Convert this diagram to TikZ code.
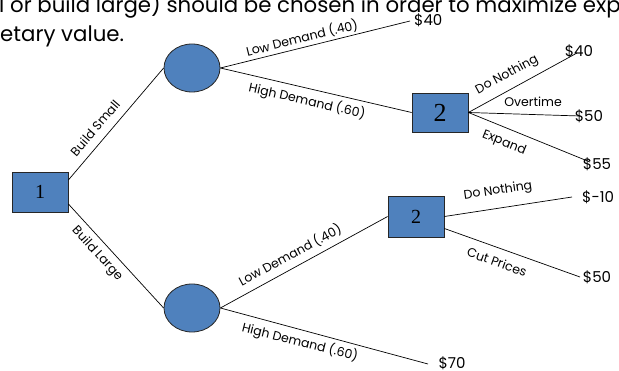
\documentclass[tikz,border=0pt]{standalone}
\usepackage{fontspec}
\setmainfont{Poppins}
\newfontfamily\serifnum{Liberation Serif}
\usetikzlibrary{shapes.geometric,calc}
\definecolor{nodeblue}{HTML}{4F81BD}
\begin{document}
\begin{tikzpicture}[x=1pt,y=-1pt,
  decbox/.style={rectangle,draw=black!85,fill=nodeblue,line width=0.8pt,minimum width=56pt,minimum height=40pt,inner sep=0pt,font=\serifnum\fontsize{20}{22}\selectfont},
  chance/.style={ellipse,draw=black!85,fill=nodeblue,line width=0.8pt,minimum width=56pt,minimum height=48pt,inner sep=0pt},
  branch/.style={draw=black,line width=0.7pt},
  lbl/.style={inner sep=0pt,font=\fontsize{12.5}{13}\selectfont},
  payoff/.style={inner sep=0pt,font=\fontsize{15}{16}\selectfont},
  heading/.style={inner sep=0pt,font=\fontsize{21.3}{24}\selectfont}]
\useasboundingbox (0,0) rectangle (619,371);
\clip (0,0) rectangle (619,371);
% heading text
\node[heading,anchor=base west] (h1) at (-1,13) {l or build large) should be chosen in order to maximize exp};
\node[heading,anchor=base west] (h2) at (0,42) {etary value.};
% nodes
\node[decbox] (b1) at (40,192) {1};
\node[chance] (c1) at (192,68) {};
\node[chance] (c2) at (192,308) {};
\node[decbox,font=\serifnum\fontsize{26}{28}\selectfont,minimum height=39pt] (b2) at (440,112.5) {2};
\node[decbox,minimum height=41pt] (b3) at (416,216.5) {2};
% leaf coordinates
\coordinate (e1) at (410,21);
\coordinate (e2) at (577,53);
\coordinate (e3) at (580,116);
\coordinate (e4) at (590,162);
\coordinate (e5) at (572,197);
\coordinate (e6) at (580,277);
\coordinate (e7) at (428,364);
% payoffs
\node[payoff,anchor=west] (p1) at (414,20) {\$40};
\node[payoff] (p2) at (579,51) {\$40};
\node[payoff] (p3) at (589,116) {\$50};
\node[payoff] (p4) at (597,164) {\$55};
\node[payoff,anchor=west] (p5) at (582,197) {\$-10};
\node[payoff] (p6) at (597,277) {\$50};
\node[payoff] (p7) at (452,363) {\$70};
% branches
\draw[branch] ([yshift=12pt]b1.east) -- (c1.west);
\draw[branch] ([yshift=-12pt]b1.east) -- (c2.west);
\draw[branch] (c1.east) -- (e1);
\draw[branch] (c1.east) -- (b2.west);
\draw[branch] (b2.east) -- (e2);
\draw[branch] (b2.east) -- (e3);
\draw[branch] (b2.east) -- (e4);
\draw[branch] (c2.east) -- (b3.west);
\draw[branch] (c2.east) -- (e7);
\draw[branch] (b3.east) -- (e5);
\draw[branch] ([yshift=-12pt]b3.east) -- (e6);
% labels
\node[lbl,rotate=49.4] (t1) at (95,128) {Build Small};
\node[lbl,rotate=-47.3] (t2) at (97,254) {Build Large};
\node[lbl,rotate=13.9] (t3) at (302,38) {Low Demand (.40)};
\node[lbl,rotate=-12.9] (t4) at (307,101) {High Demand (.60)};
\node[lbl,rotate=28.4] (t5) at (507,75) {Do Nothing};
\node[lbl] (t6) at (533,102) {Overtime};
\node[lbl,rotate=-21.9] (t7) at (504,143) {Expand};
\node[lbl,rotate=8.4] (t8) at (498,191) {Do Nothing};
\node[lbl,rotate=-19.8] (t9) at (497,262) {Cut Prices};
\node[lbl,rotate=28.4] (t10) at (290,255) {Low Demand (.40)};
\node[lbl,rotate=-14.0] (t11) at (300,342) {High Demand (.60)};
\end{tikzpicture}
\end{document}
